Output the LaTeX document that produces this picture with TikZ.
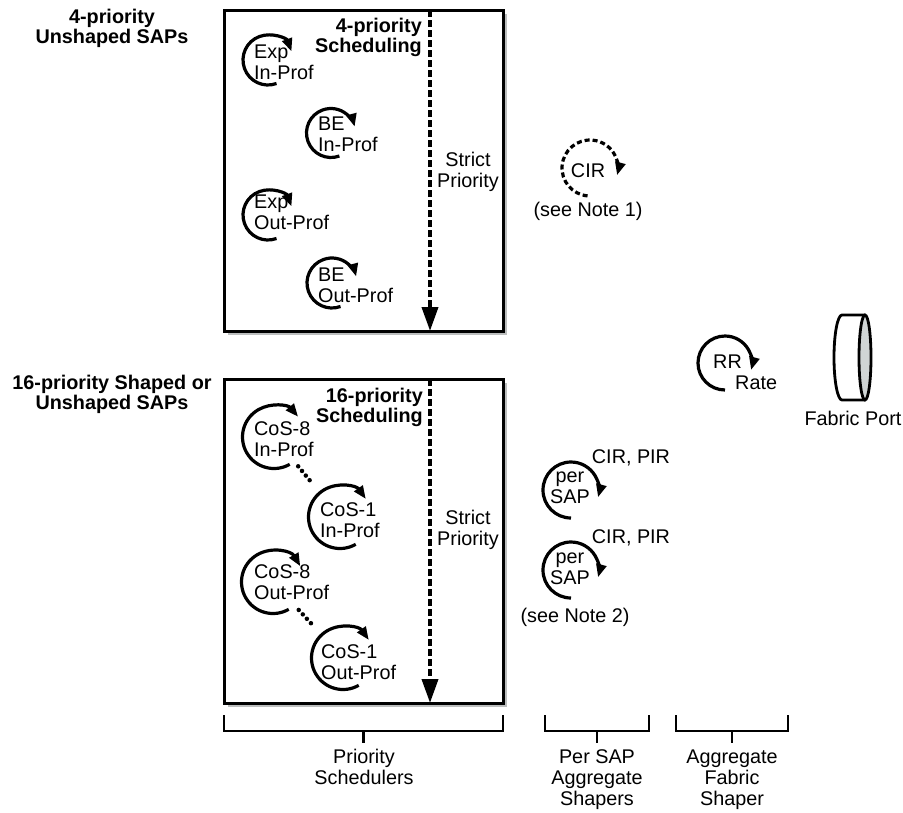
\documentclass[tikz,border=0pt]{standalone}
\usepackage{fontspec}
\setmainfont{Liberation Sans}
\usetikzlibrary{arrows.meta, positioning, calc, shadows}

\definecolor{portgray}{RGB}{208,213,213}
\definecolor{shadegray}{RGB}{188,190,190}

\begin{document}
\begin{tikzpicture}[
  x=1pt, y=-1pt,
  every node/.style={font=\fontsize{19.8}{21}\selectfont, inner sep=0pt, align=center},
  hdr/.style={font=\fontsize{19.8}{20}\selectfont\bfseries},
  qtxt/.style={align=left, anchor=west},
  sched/.style={draw, line width=3pt, fill=white, drop shadow={shadow xshift=3.5pt, shadow yshift=-3.5pt, fill=shadegray, opacity=1}},
  prio/.style={line width=3.8pt, dash pattern=on 6.5pt off 3.5pt, shorten >=1.5pt, -{Triangle[length=24pt, width=16pt]}},
  qarr/.style={line width=3.2pt, -{Triangle[length=13pt, width=10pt]}},
  cirarr/.style={qarr, dash pattern=on 5pt off 3pt},
  dotl/.style={line width=4.5pt, line cap=round, dash pattern=on 0pt off 6pt},
  brk/.style={line width=2.8pt},
  portl/.style={line width=2.8pt},
]
\useasboundingbox (0,0) rectangle (903,812);

% SAP groups
\node[hdr] (sap4)  at (112,28)  {4-priority\\Unshaped SAPs};
\node[hdr] (sap16) at (112,394) {16-priority Shaped or\\Unshaped SAPs};

% scheduler boxes
\node[sched, minimum width=279pt, minimum height=321pt] (box4)  at (363.5,170.5) {};
\node[sched, minimum width=279pt, minimum height=324pt] (box16) at (363.5,541) {};
\node[hdr, align=right, anchor=east] (sch4)  at (422,37)  {4-priority\\Scheduling};
\node[hdr, align=right, anchor=east] (sch16) at (423,407) {16-priority\\Scheduling};

% strict priority
\coordinate (sp4)  at (430,10);
\coordinate (sp16) at (430,379);
\draw[prio] (sp4) -- (sp4 |- box4.south);
\draw[prio] (sp16) -- (sp16 |- box16.south);
\node (strict4)  at (468,172) {Strict\\Priority};
\node (strict16) at (468,530) {Strict\\Priority};

% 4-priority queues
\coordinate (expin)  at (268,60);
\coordinate (bein)   at (331,133);
\coordinate (expout) at (268,215);
\coordinate (beout)  at (332,283);
\node[qtxt] (expin-t)  at (254,62)  {Exp\\In-Prof};
\node[qtxt] (bein-t)   at (318,134) {BE\\In-Prof};
\node[qtxt] (expout-t) at (254,212) {Exp\\Out-Prof};
\node[qtxt] (beout-t)  at (318,285) {BE\\Out-Prof};

% 16-priority queues
\coordinate (c8in)  at (274,437);
\coordinate (c1in)  at (340,517);
\coordinate (c8out) at (273,582);
\coordinate (c1out) at (343,658);
\node[qtxt] (c8in-t)  at (254,439) {CoS-8\\In-Prof};
\node[qtxt] (c1in-t)  at (320,520) {CoS-1\\In-Prof};
\node[qtxt] (c8out-t) at (254,582) {CoS-8\\Out-Prof};
\node[qtxt] (c1out-t) at (321,662) {CoS-1\\Out-Prof};
\draw[dotl, shorten <=38pt, shorten >=44pt] (c8in) -- (c1in);
\draw[dotl, shorten <=38pt, shorten >=44pt] (c8out) -- (c1out);

% per SAP shapers
\coordinate (cir)  at (590,168);
\coordinate (sap1) at (571,490);
\coordinate (sap2) at (571,570);
\node (cir-t)  at (588,171) {CIR};
\node (note1)  at (588,211) {(see Note 1)};
\node (sap1-t) at (570,488) {per\\SAP};
\node (sap1-r) at (631,458) {CIR, PIR};
\node (sap2-t) at (570,569) {per\\SAP};
\node (sap2-r) at (631,538) {CIR, PIR};
\node (note2)  at (575,617) {(see Note 2)};

% aggregate fabric shaper
\coordinate (rr) at (725,363);
\node[qtxt] (rr-t) at (713,372) {RR\\\hspace*{22pt}Rate};

% scheduler arcs
\foreach \q/\r/\a/\b in {expin/25pt/-70/-340, bein/24.5pt/-70/-345, expout/25pt/-70/-340, beout/25pt/-70/-345,
    c8in/31.5pt/-60/-320, c1in/31.5pt/-60/-325, c8out/31.5pt/-60/-330, c1out/31.5pt/-60/-325,
    sap1/28pt/-90/-375, sap2/28pt/-90/-375, rr/27pt/-90/-375}
  \draw[qarr] (\q) ++(\a:\r) arc[start angle=\a, end angle=\b, radius=\r];
\draw[cirarr] (cir) ++(-95:28pt) arc[start angle=-95, end angle=-375, radius=28pt];

% fabric port
\coordinate (port) at (853,357.5);
\draw[portl, fill=white] ($(port)+(12,-42.5)$) -- ($(port)+(-11,-42.5)$)
  arc[start angle=90, end angle=270, x radius=8pt, y radius=42.5pt] -- ($(port)+(12,42.5)$);
\draw[portl, fill=portgray] ($(port)+(12,0)$) ellipse[x radius=6pt, y radius=42.5pt];
\node (port-t) at (853,418) {Fabric Port};

% brackets
\foreach \l/\r in {224/503, 545/649, 676/788}{
  \draw[brk] (\l,715) |- (\r,731) -- (\r,715);
  \draw[brk] ({(\l+\r)/2},731) -- ++(0,12);
}
\node (sched) at (364,767) {Priority\\Schedulers};
\node (sapsh) at (597,780) {Per SAP\\Aggregate\\Shapers};
\node (fabsh) at (732,780) {Aggregate\\Fabric\\Shaper};

\end{tikzpicture}
\end{document}
